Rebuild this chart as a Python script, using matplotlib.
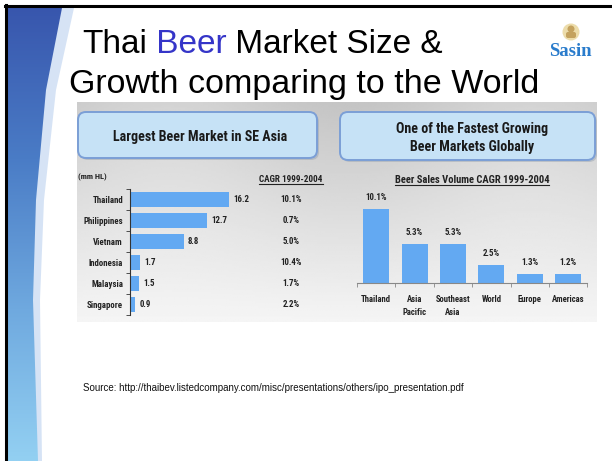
import numpy as np
import matplotlib
matplotlib.use("Agg")
import matplotlib.pyplot as plt
from matplotlib import font_manager as fm
from matplotlib.patches import FancyBboxPatch, Polygon, Circle
from matplotlib.transforms import blended_transform_factory

# Largest beer markets in SE Asia (mm HL) and their CAGR 1999-2004
countries = ["Thailand", "Philippines", "Vietnam", "Indonesia", "Malaysia", "Singapore"]
market_size = [16.2, 12.7, 8.8, 1.7, 1.5, 0.9]
country_cagr = [10.1, 0.7, 5.0, 10.4, 1.7, 2.2]

# Beer sales volume CAGR 1999-2004 by region
regions = ["Thailand", "Asia\nPacific", "Southeast\nAsia", "World", "Europe", "Americas"]
region_cagr = [10.1, 5.3, 5.3, 2.5, 1.3, 1.2]

W, H = 612, 461
bar_color = "#63a9f2"
plain = ["Liberation Sans", "DejaVu Sans"]


def pick_narrow():
    # a condensed face for the chart text; sizes are scaled to keep the widths
    ents = fm.fontManager.ttflist
    names = {e.name for e in ents}
    for fam, k in [("Liberation Sans Narrow", 1.0), ("Roboto Condensed", 0.97),
                   ("Open Sans Condensed", 0.95), ("Noto Sans Condensed", 0.95)]:
        if fam in names:
            return {"family": fam}, k
    for fam, k in [("Noto Sans", 0.95), ("Open Sans", 0.92), ("Roboto", 0.97)]:
        if any(e.name == fam and e.stretch == "condensed" for e in ents):
            return {"family": fam, "stretch": "condensed"}, k
    return {"family": "Liberation Sans"}, 0.82


nf, k = pick_narrow()


def nt(size):
    return dict(nf, fontsize=size * k * 1.07, weight="bold", color="#222222")


fig = plt.figure(figsize=(W / 100, H / 100), dpi=100)
fig.patch.set_facecolor("white")

# full-slide axes in pixel units (y down)
deco = fig.add_axes([0, 0, 1, 1])
deco.set_xlim(0, W)
deco.set_ylim(H, 0)
deco.axis("off")


def px_axes(x0, y0, x1, y1):
    ax = fig.add_axes([x0 / W, 1 - y1 / H, (x1 - x0) / W, (y1 - y0) / H])
    ax.patch.set_alpha(0)
    return ax


# blue swoosh on the left edge
band = Polygon([(7, 8), (74, 8), (56, 90), (44, 200), (40, 300), (42, H), (7, H)],
               closed=True, facecolor="#b5cdee", edgecolor="none", alpha=0.55)
deco.add_patch(band)
swoosh = Polygon([(7, 8), (62, 8), (46, 90), (36, 200), (33, 300), (38, H), (7, H)],
                 closed=True, facecolor="none", edgecolor="none")
deco.add_patch(swoosh)
grad = np.linspace(0, 1, 256).reshape(-1, 1)
blues = matplotlib.colors.LinearSegmentedColormap.from_list(
    "swoosh", ["#3856ad", "#4a7cc6", "#6fa9df", "#93d0f2"])
img = deco.imshow(grad, cmap=blues, extent=(7, 80, H, 8), aspect="auto", zorder=1)
img.set_clip_path(swoosh)

# slide frame lines
deco.plot([6, 6], [5, H], color="black", lw=2.2, zorder=5)
deco.plot([5, W], [6, 6], color="black", lw=2.2, zorder=5)

# title
t1 = deco.text(82, 53, "Thai", fontsize=24, family=plain, va="baseline", zorder=6)
t2 = deco.annotate(" Beer", xy=(1, 0), xycoords=t1, va="bottom", fontsize=24,
                   family=plain, color="#3535c8", zorder=6)
deco.annotate(" Market Size &", xy=(1, 0), xycoords=t2, va="bottom", fontsize=24,
              family=plain, zorder=6)
deco.text(69, 93, "Growth comparing to the World", fontsize=24.5, family=plain,
          va="baseline", zorder=6)

# Sasin logo
deco.add_patch(Circle((571, 32), 8.5, facecolor="#ecdcaa", edgecolor="none", zorder=6))
deco.add_patch(Circle((571, 29), 3.5, facecolor="#c4a25e", edgecolor="none", zorder=6))
deco.add_patch(FancyBboxPatch((566, 32), 10, 6, boxstyle="round,pad=0,rounding_size=2",
                              facecolor="#c4a25e", edgecolor="none", zorder=6))
deco.text(570, 51, "Sasin", fontsize=13.5, family=["Liberation Serif", "DejaVu Serif"],
          weight="bold", color="#2a7ccc", ha="center", va="center", zorder=6)

# grey photo panel behind the charts
gx = np.linspace(0, 1, 200)
gy = np.linspace(0, 1, 120).reshape(-1, 1)
panel = 0.80 + 0.16 * gy + 0.03 * np.sin(gx * 9) * (1 - gy)
deco.imshow(panel, cmap="gray", vmin=0, vmax=1, extent=(77, 597, 322, 102),
            aspect="auto", zorder=1)

# header boxes
for (x0, y0, x1, y1) in [(78, 112, 317, 158), (340, 112, 595, 160)]:
    deco.add_patch(FancyBboxPatch((x0 + 2, y0 + 2), x1 - x0, y1 - y0,
                                  boxstyle="round,pad=0,rounding_size=8",
                                  facecolor="#9aa6b4", edgecolor="none", alpha=0.5, zorder=2))
    deco.add_patch(FancyBboxPatch((x0, y0), x1 - x0, y1 - y0,
                                  boxstyle="round,pad=0,rounding_size=8",
                                  facecolor="#c6e2f6", edgecolor="#7b9fd6", lw=1.4, zorder=3))
deco.text(200, 137, "Largest Beer Market in SE Asia", ha="center", va="center",
          zorder=4, **dict(nt(9.7), color="#1a1a1a"))
deco.text(472, 138, "One of the Fastest Growing\nBeer Markets Globally", ha="center",
          va="center", linespacing=1.45, zorder=4, **dict(nt(9.7), color="#1a1a1a"))

# left chart: market size
ax1 = px_axes(130, 189, 252, 315)
y = np.arange(len(countries))
ax1.barh(y, market_size, height=0.72, color=bar_color)
ax1.set_xlim(0, 20)
ax1.set_ylim(len(countries) - 0.5, -0.5)
ax1.set_yticks(y, countries)
ax1.set_yticks(np.arange(len(countries) + 1) - 0.5, minor=True)
ax1.tick_params(axis="y", which="major", length=0, pad=5)
ax1.tick_params(axis="y", which="minor", length=3, direction="out", color="#333333")
ax1.set_xticks([])
for s in ["top", "right", "bottom"]:
    ax1.spines[s].set_visible(False)
ax1.spines["left"].set_color("#333333")
for lbl in ax1.get_yticklabels():
    lbl.set(**nt(6.2))
for yi, v in zip(y, market_size):
    ax1.annotate(f"{v:.1f}", (v, yi), xytext=(3, 0), textcoords="offset points",
                 va="center", **nt(6.2))
col = blended_transform_factory(deco.transData, ax1.transData)
for yi, c in zip(y, country_cagr):
    ax1.text(291, yi, f"{c:.1f}%", transform=col, ha="center", va="center", **nt(6.2))
deco.text(78, 177, "(mm HL)", va="center", zorder=4, **nt(5.8))

# right chart: growth by region
ax2 = px_axes(357, 195.4, 587.4, 283)
x = np.arange(len(regions))
ax2.bar(x, region_cagr, width=0.68, color=bar_color)
ax2.set_xlim(-0.5, len(regions) - 0.5)
ax2.set_ylim(0, 12)
ax2.set_yticks([])
ax2.set_xticks(x, regions)
ax2.set_xticks(np.arange(len(regions) + 1) - 0.5, minor=True)
ax2.tick_params(axis="x", which="major", length=0, pad=9)
ax2.tick_params(axis="x", which="minor", length=3, direction="out", color="#888888")
for s in ["top", "right", "left"]:
    ax2.spines[s].set_visible(False)
ax2.spines["bottom"].set_color("#888888")
for lbl in ax2.get_xticklabels():
    lbl.set(**nt(6.0))
    lbl.set_linespacing(1.45)
for xi, v in zip(x, region_cagr):
    ax2.annotate(f"{v:.1f}%", (xi, v), xytext=(0, 5), textcoords="offset points",
                 ha="center", va="bottom", **nt(6.2))

# underlined column headings
heads = [
    deco.text(291, 179, "CAGR 1999-2004", ha="center", va="center", zorder=4, **nt(6.3)),
    deco.text(472, 180, "Beer Sales Volume CAGR 1999-2004", ha="center", va="center",
              zorder=4, **nt(7.3)),
]

deco.text(83, 388, "Source: http://thaibev.listedcompany.com/misc/presentations/others/ipo_presentation.pdf",
          fontsize=7, family=plain, color="#111111", va="center", zorder=4)

fig.canvas.draw()
inv = deco.transData.inverted()
for t in heads:
    bb = t.get_window_extent()
    (xa, ya), (xb, _) = inv.transform([(bb.x0, bb.y0), (bb.x1, bb.y0)])
    deco.plot([xa, xb], [ya, ya], color="#222222", lw=0.8, zorder=4)

fig.savefig("out.png", dpi=100)
